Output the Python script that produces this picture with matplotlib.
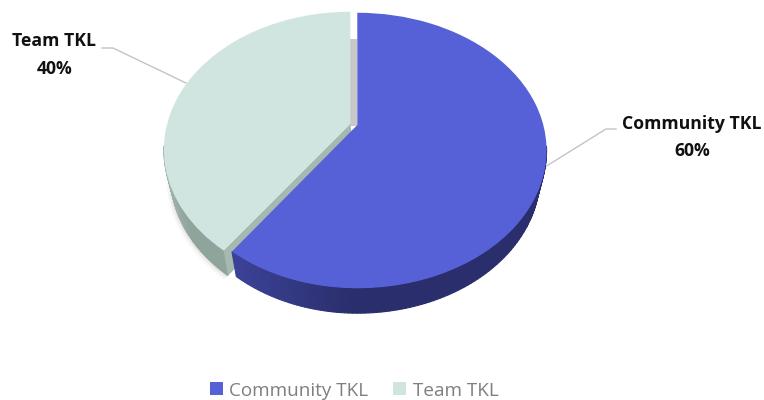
import numpy as np
import matplotlib
matplotlib.use("Agg")
import matplotlib.pyplot as plt
from matplotlib.transforms import Transform
from matplotlib.patches import Polygon

categories = ["Community TKL", "Team TKL"]
shares = [60, 40]
colors = ["#5761d7", "#d0e5df"]
wall_left = ["#3b4296", "#a6b8b0"]
wall_right = ["#2a2e6c", "#8fa49b"]
percent_labels = ["60%", "40%"]

plt.rcParams["font.family"] = ["Open Sans", "DejaVu Sans"]

KT = 0.185
RX, RY = 186.0, 133.0
DEPTH = 25.0
LEFT_SCALE = [0.975, 0.985]


def project(xy, cx, cy, scale=1.0, dy=0.0, left=1.0):
    xy = np.asarray(xy, dtype=float)
    w = 1 + KT * xy[:, 1]
    sx = np.where(xy[:, 0] < 0, left, 1.0)
    return np.column_stack([cx + scale * sx * RX * xy[:, 0] / w,
                            cy + dy - RY * xy[:, 1] / w])


class Perspective(Transform):
    input_dims = output_dims = 2
    is_separable = False
    has_inverse = False

    def __init__(self, cx, cy, left=1.0):
        super().__init__()
        self.cx, self.cy, self.left = cx, cy, left

    def transform_non_affine(self, values):
        return project(values, self.cx, self.cy, left=self.left)


fig = plt.figure(figsize=(7.64, 4.0), dpi=100, facecolor="white")
ax = fig.add_axes([0, 0, 1, 1])
wedges, _ = ax.pie(shares, colors=colors, startangle=90, counterclock=False,
                   wedgeprops={"linewidth": 0})
ax.set_aspect("auto")
ax.set_xlim(0, 764)
ax.set_ylim(400, 0)
ax.axis("off")

# vertex of each slice on the canvas
vertices = [(357.3, 125.0), (350.3, 124.0)]


def wall(theta1, theta2, vertex, c_left, c_right, z, left):
    th = np.radians(np.linspace(theta1, theta2, 200))
    th = th[np.sin(th) < -0.15]
    unit = np.column_stack([np.cos(th), np.sin(th)])
    top = project(unit, *vertex, left=left)
    bot = project(unit, *vertex, scale=0.965, dy=DEPTH, left=left)
    cl, cr = matplotlib.colors.to_rgb(c_left), matplotlib.colors.to_rgb(c_right)
    xmin, xmax = top[:, 0].min(), top[:, 0].max()
    for i in range(len(th) - 1):
        f = np.clip((top[i, 0] - xmin) / (xmax - xmin + 1e-9) * 2.6, 0, 1)
        c = tuple(np.array(cl) * (1 - f) + np.array(cr) * f)
        ax.add_patch(Polygon([top[i], top[i + 1], bot[i + 1], bot[i]],
                             closed=True, fc=c, ec=c, lw=0.8, zorder=z))


# soft shadow under the team slice
t1, t2 = wedges[1].theta1, wedges[1].theta2
th = np.radians(np.linspace(t1, t2, 120))
th = th[np.sin(th) < -0.15]
unit = np.column_stack([np.cos(th), np.sin(th)])
for grow, a in [(4, 0.04), (2.5, 0.06), (1.2, 0.08)]:
    s = project(unit, *vertices[1], scale=0.965, dy=DEPTH + grow, left=LEFT_SCALE[1])
    s[:, 0] -= grow
    ax.add_patch(Polygon(np.vstack([s, [vertices[1]]]), closed=True, fc="#555555",
                         ec="none", alpha=a, zorder=0.5))

# slice order: the team slice sits behind the community slice
wall(t1, t2, vertices[1], wall_left[1], wall_right[1], 1, LEFT_SCALE[1])
edge = np.array([[np.cos(np.radians(t2)), np.sin(np.radians(t2))]])
start = project(edge, *vertices[1], left=LEFT_SCALE[1])[0]
start_b = project(edge, *vertices[1], scale=0.965, dy=DEPTH, left=LEFT_SCALE[1])[0]
vx, vy = vertices[1]
ax.add_patch(Polygon([(vx, vy), start, start_b, (vx + 4, vy + DEPTH)], closed=True,
                     fc="#a6b9b1", ec="none", zorder=1.2))
ax.add_patch(Polygon([(vx - 1, 39), (vertices[0][0], 39), (vertices[0][0], vy + 2),
                      (vx - 1, vy + 2)], closed=True, fc="#c8c8c8", ec="none", zorder=1.1))
wedges[1].set_transform(Perspective(*vertices[1], left=LEFT_SCALE[1]) + ax.transData)
wedges[1].set_zorder(2)

c1, c2 = wedges[0].theta1, wedges[0].theta2
wall(c1, c2, vertices[0], wall_left[0], wall_right[0], 3, LEFT_SCALE[0])
wedges[0].set_transform(Perspective(*vertices[0], left=LEFT_SCALE[0]) + ax.transData)
wedges[0].set_zorder(4)

# leader lines
ax.plot([545, 606, 616], [167, 129, 129], color="#c4c4c4", lw=1, zorder=1)
ax.plot([102, 113, 186], [48, 48, 83], color="#c4c4c4", lw=1, zorder=1)

# data labels
for (x, y1, y2), cat, pct in zip([(692, 124, 151), (54.5, 41.5, 68.5)], categories, percent_labels):
    ax.text(x, y1, cat, ha="center", va="center", fontsize=12.7, fontweight="bold", color="#111111")
    ax.text(x, y2, pct, ha="center", va="center", fontsize=12.7, fontweight="bold", color="#111111")

# legend
leg = ax.legend(wedges, categories, ncol=2, frameon=False, loc="center",
                bbox_to_anchor=(354 / 764, 1 - 390.5 / 400), fontsize=13.6,
                labelcolor="#7f7f7f", handlelength=0.69, handleheight=0.69,
                handletextpad=0.35, columnspacing=1.3, borderpad=0, borderaxespad=0)

fig.savefig("out.png", dpi=100, facecolor="white")
